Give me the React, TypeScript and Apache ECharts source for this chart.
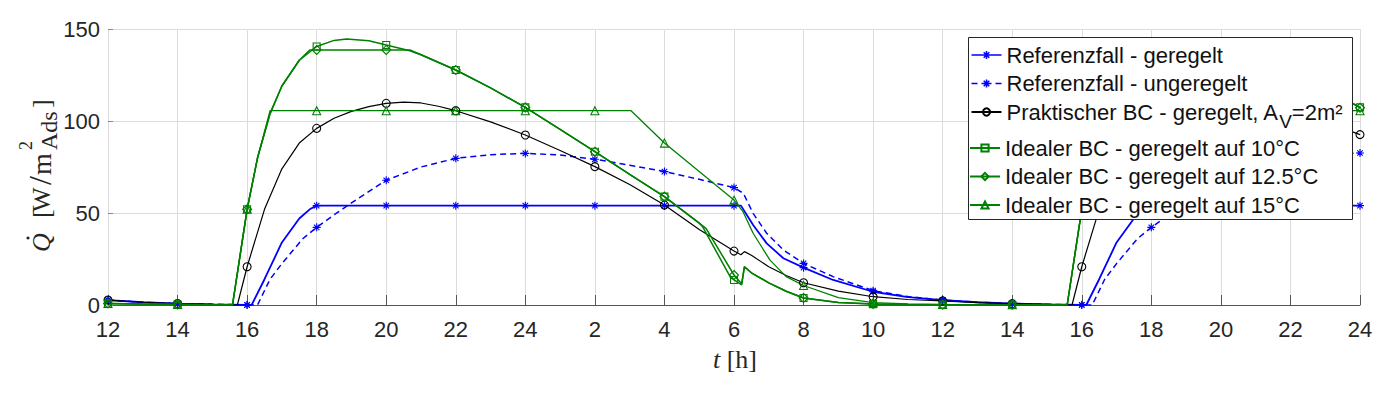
import React, { useEffect, useRef } from 'react';
import * as echarts from 'echarts';

// x = hours since 12:00 on day 1 (0 … 36)
const tickLabels = ['12', '14', '16', '18', '20', '22', '24', '2', '4', '6', '8', '10', '12', '14', '16', '18', '20', '22', '24'];

const seriesNames = [
  'Referenzfall - geregelt',
  'Referenzfall - ungeregelt',
  'Praktischer BC - geregelt, A_V=2m²',
  'Idealer BC - geregelt auf 10°C',
  'Idealer BC - geregelt auf 12.5°C',
  'Idealer BC - geregelt auf 15°C',
];

const refGeregelt: [number, number][] = [
  [0, 2.7], [1, 1.5], [2, 0.8], [3, 0.3], [4, 0], [4.13, 0], [4.5, 14], [5, 34], [5.5, 47], [5.8, 52], [6, 54],
  [8, 54], [10, 54], [12, 54], [14, 54], [16, 54], [18, 54], [18.2, 54], [18.55, 43.5], [18.94, 33.5],
  [19.42, 25.4], [20, 20.3], [20.85, 13.6], [22, 7.2], [23, 4.3], [24, 2.7], [25, 1.5], [26, 0.8], [27, 0.3],
  [28, 0], [28.13, 0], [28.5, 14], [29, 34], [29.5, 47], [29.8, 52], [30, 54], [32, 54], [34, 54], [36, 54],
];

const refUngeregelt: [number, number][] = [
  [0, 2.7], [1, 1.5], [2, 0.8], [3, 0.4], [4, 0.1], [4.3, 0], [4.66, 14], [5, 22.5], [5.6, 36], [6, 42.2],
  [6.5, 49], [7, 55.5], [8, 67.8], [9, 75], [10, 79.7], [11, 81.7], [12, 82.4], [13, 81.5], [14, 79.2],
  [15, 76], [16, 72.5], [17, 68.3], [18, 63.8], [18.27, 60.7], [18.55, 49.8], [18.94, 39], [19.42, 29.9],
  [20, 22.6], [20.85, 15.4], [22, 7.8], [23, 4.6], [24, 2.7], [25, 1.5], [26, 0.8], [27, 0.4], [28, 0.1],
  [28.3, 0], [28.66, 14], [29, 22.5], [29.6, 36], [30, 42.2], [30.5, 49], [31, 55.5], [32, 67.8], [33, 75],
  [34, 79.7], [35, 81.7], [36, 82.6],
];

const praktischBC: [number, number][] = [
  [0, 2.7], [1, 1.5], [2, 0.8], [3, 0.3], [3.72, 0], [4, 20.8], [4.5, 52], [5, 74], [5.5, 88], [6, 96],
  [6.5, 101.5], [7, 105.2], [7.5, 107.8], [8, 109.6], [8.5, 110.3], [9, 109.8], [9.5, 108], [10, 105.6],
  [11, 99.5], [12, 92.4], [13, 84], [14, 75.2], [15, 65.5], [16, 54.3], [17, 41], [18, 29.3], [18.2, 27.3],
  [18.3, 29], [18.5, 27], [19, 20.8], [19.5, 16], [20, 12.1], [21, 7.5], [22, 4.5], [23, 3], [24, 2.2],
  [25, 1.3], [26, 0.7], [27, 0.3], [27.72, 0], [28, 20.8], [28.5, 52], [29, 74], [29.5, 88], [30, 96],
  [30.5, 101.5], [31, 105.2], [31.5, 107.8], [32, 109.6], [32.5, 110.3], [33, 109.8], [33.5, 108],
  [34, 105.6], [35, 99.5], [36, 92.6],
];

const ideal10: [number, number][] = [
  [0, 0.8], [1, 0.5], [2, 0.3], [3, 0.1], [3.58, 0], [4, 52], [4.3, 80], [4.66, 104], [5, 119], [5.5, 133],
  [6, 140.5], [6.5, 143.8], [6.86, 144.6], [7.5, 143.6], [8, 141.3], [8.68, 138.2], [9, 136], [10, 127.7],
  [11, 118], [12, 107.4], [13, 95.5], [14, 83.3], [15, 71], [16, 58.9], [17, 44.5], [17.1, 42.5], [17.9, 15],
  [18, 13.6], [18.22, 10.9], [18.3, 20.8], [18.5, 17.5], [19, 12], [19.5, 7.5], [20, 3.8], [21, 1.3],
  [22, 0.5], [23, 0.3], [24, 0.2], [25, 0.1], [26, 0.1], [27, 0], [27.58, 0], [28, 52], [28.3, 80],
  [28.66, 104], [29, 119], [29.5, 133], [30, 140.5], [30.5, 143.8], [30.86, 144.6], [31.5, 143.6],
  [32, 141.3], [32.68, 138.2], [33, 136], [34, 127.7], [35, 118], [36, 107.4],
];

const ideal125: [number, number][] = [
  [0, 0.8], [1, 0.5], [2, 0.3], [3, 0.1], [3.58, 0], [4, 52], [4.3, 80], [4.66, 104], [5, 119], [5.5, 133],
  [5.8, 138.6], [6, 138.6], [8, 138.6], [8.68, 138.6], [9, 136], [10, 127.7], [11, 118], [12, 107.4],
  [13, 95.5], [14, 83.3], [15, 71], [16, 58.9], [17, 44.5], [17.2, 41.5], [18, 16.3], [18.22, 11.5],
  [18.3, 20.8], [18.5, 17.5], [19, 12], [19.5, 7.5], [20, 3.8], [21, 1.3], [22, 0.5], [23, 0.3], [24, 0.2],
  [25, 0.1], [26, 0.1], [27, 0], [27.58, 0], [28, 52], [28.3, 80], [28.66, 104], [29, 119], [29.5, 133],
  [29.8, 138.6], [30, 138.6], [32, 138.6], [32.68, 138.6], [33, 136], [34, 127.7], [35, 118], [36, 107.2],
];

const ideal15: [number, number][] = [
  [0, 0.8], [1, 0.5], [2, 0.3], [3, 0.1], [3.58, 0], [4, 52], [4.3, 80], [4.66, 105.6], [6, 105.6],
  [8, 105.6], [10, 105.6], [12, 105.6], [14, 105.6], [15.04, 105.6], [16, 88], [17, 72.5], [18, 57],
  [18.26, 50.7], [18.55, 39], [19.03, 24.5], [19.5, 15.4], [20, 10.6], [21, 4], [22, 1.3], [23, 0.6],
  [24, 0.3], [25, 0.2], [26, 0.1], [27, 0], [27.58, 0], [28, 52], [28.3, 80], [28.66, 105.6], [30, 105.6],
  [32, 105.6], [34, 105.6], [36, 105.6],
];

const BLUE = '#0000ff';
const GREEN = '#008000';
const BLACK = '#000000';
const ASTERISK = 'path://M5,0L5,10M0,5L10,5M1.6,1.6L8.4,8.4M1.6,8.4L8.4,1.6';
const ICON_SOLID_AST = 'path://M0,4L30,4M15,0L15,8M11,4L19,4M12.2,1.2L17.8,6.8M12.2,6.8L17.8,1.2';
const ICON_DASH_AST = 'path://M0,4L6,4M10,4L20,4M24,4L30,4M15,0L15,8M12.2,1.2L17.8,6.8M12.2,6.8L17.8,1.2';

const toData = (arr: [number, number][]) =>
  arr.map(([t, v]) => (Math.abs(t % 2) < 1e-9 ? [t, v] : { value: [t, v], symbol: 'none' }));

const mkSeries = (
  name: string,
  arr: [number, number][],
  color: string,
  symbol: string,
  symbolSize: number,
  dashed = false,
  width = 1.3,
) => ({
  type: 'line',
  name,
  data: toData(arr),
  symbol,
  symbolSize,
  showSymbol: true,
  lineStyle: { color, width, type: dashed ? [6, 4] : 'solid' },
  itemStyle: { color: 'rgba(255,255,255,0)', borderColor: color, borderWidth: 1.1 },
  emphasis: { disabled: true },
  z: 2,
});

const legendFont = 'Liberation Sans';
const richLegend = {
  a: { fontSize: 22, lineHeight: 22, fontFamily: legendFont, color: '#111', verticalAlign: 'top' },
  s: { fontSize: 19, lineHeight: 22, fontFamily: legendFont, color: '#111', verticalAlign: 'top', padding: [11, 0, 0, 0] },
};
const legendFormatter = (name: string) =>
  name === seriesNames[2] ? '{a|Praktischer BC - geregelt, A}{s|V}{a|=2m²}' : name;

const serif = 'Liberation Serif';
const txtColor = '#262626';

const ylabelText = (text: string, x: number, y: number, size: number, italic = false) => ({
  type: 'text',
  style: {
    text,
    x,
    y,
    font: `${italic ? 'italic ' : ''}${size}px ${serif}`,
    fill: txtColor,
    verticalAlign: 'middle',
  },
});

const option: any = {
  animation: false,
  backgroundColor: '#ffffff',
  grid: { left: 108, right: 16, top: 29, bottom: 89 },
  xAxis: {
    type: 'value',
    min: 0,
    max: 36,
    interval: 2,
    axisLine: { show: true, lineStyle: { color: '#555', width: 1 } },
    axisTick: { show: true, inside: true, length: 10, lineStyle: { color: '#555' } },
    axisLabel: {
      fontSize: 22,
      fontFamily: 'Liberation Sans',
      color: txtColor,
      margin: 13,
      formatter: (v: number) => tickLabels[Math.round(v / 2)] ?? '',
    },
    splitLine: { show: true, lineStyle: { color: '#dcdcdc', width: 1 } },
  },
  yAxis: {
    type: 'value',
    min: 0,
    max: 150,
    interval: 50,
    axisLine: { show: false },
    axisTick: { show: true, inside: true, length: 5, lineStyle: { color: '#888' } },
    axisLabel: { fontSize: 22, fontFamily: 'Liberation Sans', color: txtColor, margin: 8 },
    splitLine: { show: true, lineStyle: { color: '#dcdcdc', width: 1 } },
  },
  legend: [
    {
      data: [
        { name: seriesNames[0], icon: ICON_SOLID_AST, itemStyle: { color: 'none', borderColor: BLUE, borderWidth: 1.5 } },
        { name: seriesNames[1], icon: ICON_DASH_AST, itemStyle: { color: 'none', borderColor: BLUE, borderWidth: 1.5 } },
        { name: seriesNames[2] },
      ],
      orient: 'vertical',
      left: 969,
      top: 44,
      padding: 0,
      itemGap: 6.5,
      itemWidth: 30,
      itemHeight: 9,
      selectedMode: false,
      z: 6,
      formatter: legendFormatter,
      textStyle: { fontSize: 22, lineHeight: 22, fontFamily: legendFont, color: '#111', rich: richLegend },
    },
    {
      data: seriesNames.slice(3),
      orient: 'vertical',
      left: 969,
      top: 137,
      padding: 0,
      itemGap: 6.5,
      itemWidth: 30,
      itemHeight: 9,
      selectedMode: false,
      z: 6,
      textStyle: { fontSize: 22, lineHeight: 22, fontFamily: legendFont, color: '#111' },
    },
  ],
  graphic: [
    {
      type: 'rect',
      z: 5,
      shape: { x: 968.5, y: 37.5, width: 384, height: 182 },
      style: { fill: '#ffffff', stroke: '#262626', lineWidth: 1 },
    },
    {
      type: 'group',
      x: 50,
      y: 258,
      rotation: Math.PI / 2,
      children: [
        ylabelText('Q', 6, -9, 26, true),
        { type: 'circle', shape: { cx: 20, cy: -22, r: 1.6 }, style: { fill: txtColor } },
        ylabelText('[', 40, -9, 26),
        ylabelText('W', 46, -9, 26),
        ylabelText('/', 73, -10, 32),
        ylabelText('m', 83, -9, 28),
        ylabelText('2', 108, -24, 18),
        ylabelText('Ads', 108, -1, 24),
        ylabelText(']', 150, -9, 26),
      ],
    },
    {
      type: 'text',
      style: {
        text: '{i|t} [h]',
        x: 735,
        y: 359,
        align: 'center',
        verticalAlign: 'middle',
        font: `26px ${serif}`,
        fill: txtColor,
        rich: { i: { fontStyle: 'italic', fontSize: 26, fontFamily: serif, fill: txtColor } },
      },
    },
  ],
  series: [
    mkSeries(seriesNames[0], refGeregelt, BLUE, ASTERISK, 8, false, 1.8),
    mkSeries(seriesNames[1], refUngeregelt, BLUE, ASTERISK, 8, true, 1.5),
    mkSeries(seriesNames[2], praktischBC, BLACK, 'circle', 8, false, 1.2),
    mkSeries(seriesNames[3], ideal10, GREEN, 'rect', 7, false, 1.5),
    mkSeries(seriesNames[4], ideal125, GREEN, 'diamond', 9, false, 1.5),
    mkSeries(seriesNames[5], ideal15, GREEN, 'triangle', 8, false, 1.3),
  ],
};

export default function App() {
  const ref = useRef<HTMLDivElement>(null);
  useEffect(() => {
    if (!ref.current) return;
    const chart = echarts.init(ref.current, null, { renderer: 'svg' });
    chart.setOption(option);
    return () => chart.dispose();
  }, []);
  return (
    <div
      ref={ref}
      style={{ position: 'absolute', left: 0, top: 0, width: 1376, height: 394, background: '#ffffff' }}
    />
  );
}
